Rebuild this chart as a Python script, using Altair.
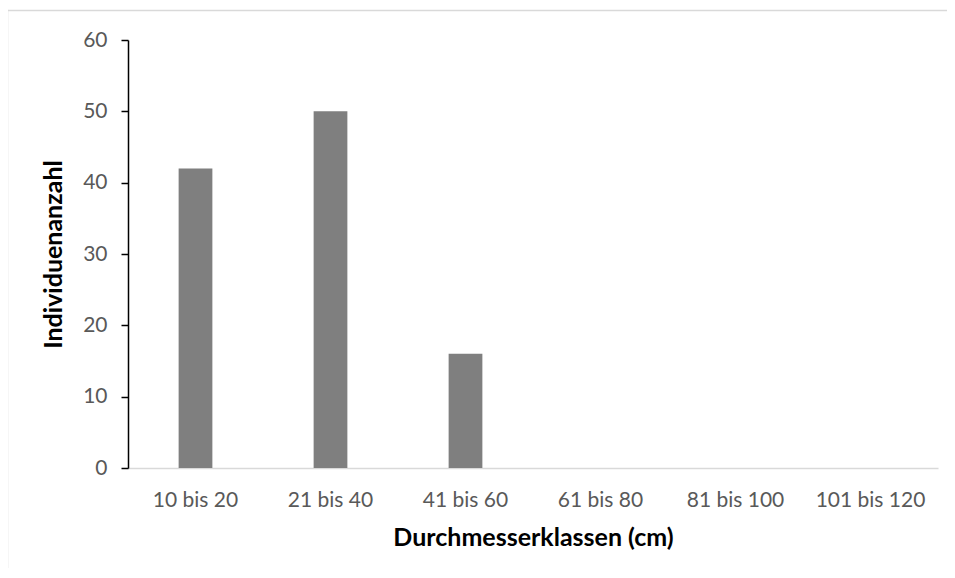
import altair as alt
import pandas as pd

categories = ["10 bis 20", "21 bis 40", "41 bis 60", "61 bis 80", "81 bis 100", "101 bis 120"]
counts = [42, 50, 16, 0, 0, 0]

df = pd.DataFrame({"Klasse": categories, "Anzahl": counts})

FONT = "Lato"

bars = alt.Chart(df).mark_bar(color="#7f7f7f").encode(
    x=alt.X(
        "Klasse:N",
        sort=categories,
        scale=alt.Scale(paddingInner=0.75, paddingOuter=0.375),
        axis=alt.Axis(
            title="Durchmesserklassen (cm)",
            labelAngle=0,
            ticks=False,
            domainColor="#d9d9d9",
            domainWidth=1.5,
            labelPadding=21,
            titlePadding=15,
        ),
    ),
    y=alt.Y(
        "Anzahl:Q",
        scale=alt.Scale(domain=[0, 60]),
        axis=alt.Axis(
            title="Individuenanzahl",
            values=[0, 10, 20, 30, 40, 50, 60],
            grid=False,
            domainColor="#000000",
            domainWidth=1.5,
            tickColor="#000000",
            tickSize=7,
            tickWidth=1.5,
            labelPadding=14,
            titlePadding=16,
        ),
    ),
)

frame_df = pd.DataFrame({"k": [1]})
frame_left = alt.Chart(frame_df).mark_rule(
    color="#d9d9d9", strokeWidth=1.5, clip=False
).encode(
    x=alt.value(-120.5),
    y=alt.value(-30.25),
    y2=alt.value(700),
)
frame_top = alt.Chart(frame_df).mark_rule(
    color="#d9d9d9", strokeWidth=1.5, clip=False
).encode(
    x=alt.value(-121.25),
    x2=alt.value(900),
    y=alt.value(-29.5),
)

chart = alt.layer(frame_left, frame_top, bars).properties(
    width=810,
    height=428,
    autosize=alt.AutoSizeParams(type="none"),
    padding={"left": 120, "top": 32, "right": 9, "bottom": 100},
).configure_view(stroke=None).configure_axis(
    labelFont=FONT,
    titleFont=FONT,
    labelFontSize=21,
    titleFontSize=25,
    labelColor="#595959",
    titleColor="#000000",
    titleFontWeight="bold",
    labelFontWeight="normal",
)

chart.save("out.html", embed_options={"renderer": "svg", "actions": False})
